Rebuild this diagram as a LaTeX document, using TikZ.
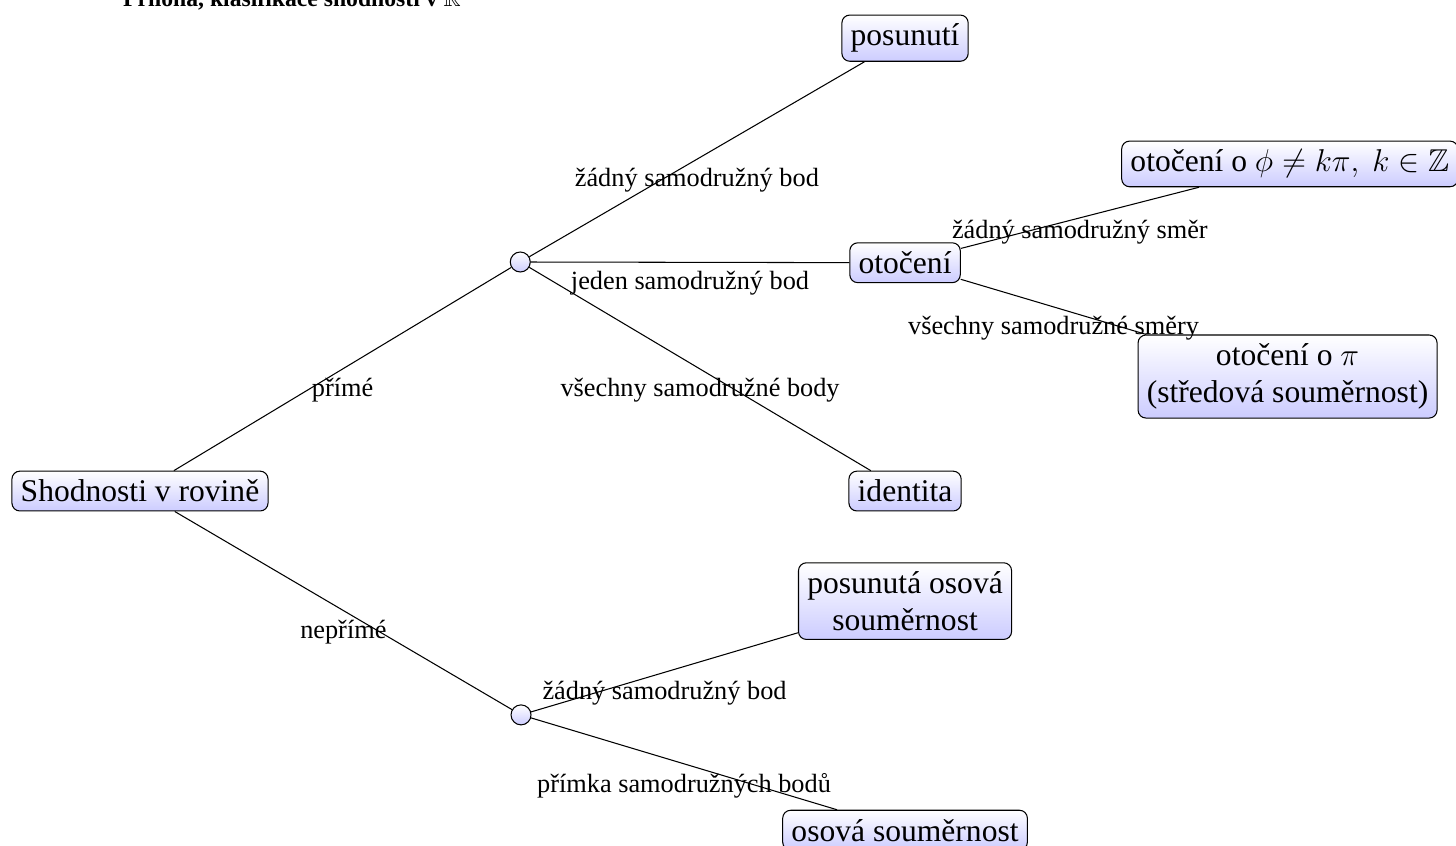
\documentclass[tikz,border=0pt]{standalone}
\usepackage{amssymb}
\usepackage{fontspec}
\setmainfont{Liberation Serif}
\usepackage{tikz}
\definecolor{modrap}{rgb}{0.8,0.8,1}
\tikzset{
  uzel/.style={draw, rounded corners=3pt, top color=white, bottom color=modrap, font=\large, align=center},
  bod/.style={draw, circle, minimum size=7.6pt, inner sep=0pt, top color=white, bottom color=modrap},
  popis/.style={midway, below}
}

\begin{document}
\begin{tikzpicture}
        \useasboundingbox (0,0) rectangle (19.45,11.29);
        \node[anchor=base, font=\fontsize{9}{11}\selectfont\bfseries] (nadpis) at (3.90,11.20) {Příloha, klasifikace shodností v $\mathbb{R}$};
        \node[uzel] (shodnosti) at (1.87,4.73) {Shodnosti v rovině};
        \node[bod] (prime) at (6.95,7.79) {};
        \node[bod] (neprime) at (6.96,1.74) {};
        \node[uzel] (posunuti) at (12.09,10.78) {posunutí};
        \node[uzel] (otoceni) at (12.09,7.78) {otočení};
        \node[uzel] (identita) at (12.09,4.73) {identita};
        \node[uzel] (pososova) at (12.09,3.26) {posunutá osová\\souměrnost};
        \node[uzel] (osova) at (12.09,0.20) {osová souměrnost};
        \node[uzel] (otocphi) at (17.23,9.10) {otočení o $\phi \neq k\pi,\ k \in \mathbb{Z}$};
        \node[uzel] (otocpi) at (17.20,6.26) {otočení o $\pi$\\(středová souměrnost)};
        \draw (shodnosti) -- node[popis] {přímé} (prime);
        \draw (shodnosti) -- node[popis] {nepřímé} (neprime);
        \draw (prime) -- node[popis] {žádný samodružný bod} (posunuti);
        \draw (prime) -- node[popis] {jeden samodružný bod} (otoceni);
        \draw (prime) -- node[popis] {všechny samodružné body} (identita);
        \draw (otoceni) -- node[popis, yshift=2.5pt] {žádný samodružný směr} (otocphi);
        \draw (otoceni) -- node[popis] {všechny samodružné směry} (otocpi);
        \draw (neprime) -- node[popis] {žádný samodružný bod} (pososova);
        \draw (neprime) -- node[popis] {přímka samodružných bodů} (osova);
\end{tikzpicture}
\end{document}
